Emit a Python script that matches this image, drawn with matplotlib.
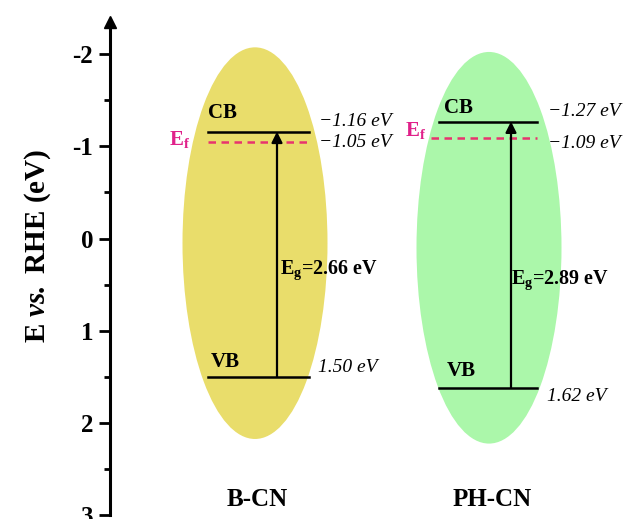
import matplotlib
matplotlib.use("Agg")
import matplotlib.pyplot as plt
from matplotlib.patches import Ellipse

plt.rcParams['font.family'] = ['Liberation Serif', 'DejaVu Serif']
plt.rcParams['mathtext.fontset'] = 'custom'
plt.rcParams['mathtext.rm'] = 'Liberation Serif'
plt.rcParams['mathtext.it'] = 'Liberation Serif:italic'
plt.rcParams['mathtext.bf'] = 'Liberation Serif:bold'
plt.rcParams['mathtext.bfit'] = 'Liberation Serif:italic:bold'
plt.rcParams['axes.unicode_minus'] = False

# ---- data ----
materials = ['B-CN', 'PH-CN']
cb = [-1.16, -1.27]
ef = [-1.05, -1.09]
vb = [1.50, 1.62]
eg = [2.66, 2.89]
yticks = [-2, -1, 0, 1, 2, 3]

# ---- layout (x in pixel-like axis units) ----
ell_x = [255, 489]
ell_y = [0.05, 0.10]
ell_w = 145
ell_h = 4.25
ell_colors = ['#e9dd6b', '#abf7aa']
line_x = [(208, 309), (439, 537)]
ef_x = [(208, 308), (431, 537)]
arrow_x = [277, 511]
val_x = [319, 548]
cblab_x = [208, 444]
eglab_x = [280, 511]
eglab_y = [0.34, 0.45]
eflab_x = [169, 405]
name_x = [257, 492]

fig = plt.figure(figsize=(6.41, 5.19), dpi=100)
ax = fig.add_axes([110 / 641, 4 / 519, 1 - 110 / 641, (515 - 22) / 519])
ax.set_xlim(110, 641)
ax.set_ylim(3, -2.35)

for s in ['top', 'right', 'bottom']:
    ax.spines[s].set_visible(False)
ax.spines['left'].set_linewidth(2.2)
ax.set_xticks([])
ax.set_yticks(yticks)
ax.set_yticks([-1.5, -0.5, 0.5, 1.5, 2.5], minor=True)
ax.tick_params(axis='y', which='major', direction='out', length=8, width=2,
               labelsize=18, pad=4)
ax.tick_params(axis='y', which='minor', direction='out', length=4, width=2)
for lab in ax.get_yticklabels():
    lab.set_fontweight('bold')
ax.plot(0, 1, marker='^', markersize=8, color='black', transform=ax.transAxes,
        clip_on=False)
ax.set_ylabel(r'E $\mathbfit{vs.}$ RHE (eV)', fontsize=21, fontweight='bold')
ax.yaxis.set_label_coords(-0.108, 0.545)

def px(dy):
    return (0, -dy * 0.72)

red = '#e8336e'
mag = '#e0218a'
for i in range(2):
    ax.add_patch(Ellipse((ell_x[i], ell_y[i]), ell_w, ell_h, color=ell_colors[i],
                         lw=0, zorder=1))
    ax.plot(line_x[i], [cb[i], cb[i]], color='black', lw=1.8, zorder=3)
    ax.plot(line_x[i], [vb[i], vb[i]], color='black', lw=1.8, zorder=3)
    ax.plot(ef_x[i], [ef[i], ef[i]], color=red, lw=1.8, ls=(0, (3, 2.2)), zorder=3)
    ax.annotate('', xy=(arrow_x[i], cb[i]), xytext=(arrow_x[i], vb[i]),
                arrowprops=dict(arrowstyle='-|>', color='black', lw=1.6,
                                mutation_scale=16, shrinkA=0, shrinkB=0), zorder=4)
    ax.text(name_x[i], 2.83, materials[i], ha='center', va='center',
            fontsize=18, fontweight='bold')
    ax.text(eglab_x[i], eglab_y[i], r'$\mathbf{E_g}$=%.2f eV' % eg[i],
            ha='left', va='center', fontsize=14.5, fontweight='bold')

cb_dy = [-10, -10]
ef_dy = [1, 5]
vb_dy = [-9, 9]
cblab_dy = [-19, -14]
vblab_dy = [-15, -17]
eflab_dy = [-2, -8]
for i in range(2):
    ax.annotate('\u2212%.2f eV' % abs(cb[i]), xy=(val_x[i], cb[i]), xytext=px(cb_dy[i]),
                textcoords='offset points', va='center', ha='left', fontsize=14,
                style='italic')
    ax.annotate('\u2212%.2f eV' % abs(ef[i]), xy=(val_x[i], ef[i]), xytext=px(ef_dy[i]),
                textcoords='offset points', va='center', ha='left', fontsize=14,
                style='italic')
    ax.annotate('%.2f eV' % vb[i], xy=(val_x[i] - 1, vb[i]), xytext=px(vb_dy[i]),
                textcoords='offset points', va='center', ha='left', fontsize=14,
                style='italic')
    ax.annotate('CB', xy=(cblab_x[i], cb[i]), xytext=px(cblab_dy[i]),
                textcoords='offset points', va='center', ha='left', fontsize=15,
                fontweight='bold')
    ax.annotate('VB', xy=(cblab_x[i] + 3, vb[i]), xytext=px(vblab_dy[i]),
                textcoords='offset points', va='center', ha='left', fontsize=15,
                fontweight='bold')
    ax.annotate(r'$\mathbf{E_f}$', xy=(eflab_x[i], ef[i]), xytext=px(eflab_dy[i]),
                textcoords='offset points', va='center', ha='left', fontsize=15,
                color=mag)

fig.savefig('out.png', dpi=100)
